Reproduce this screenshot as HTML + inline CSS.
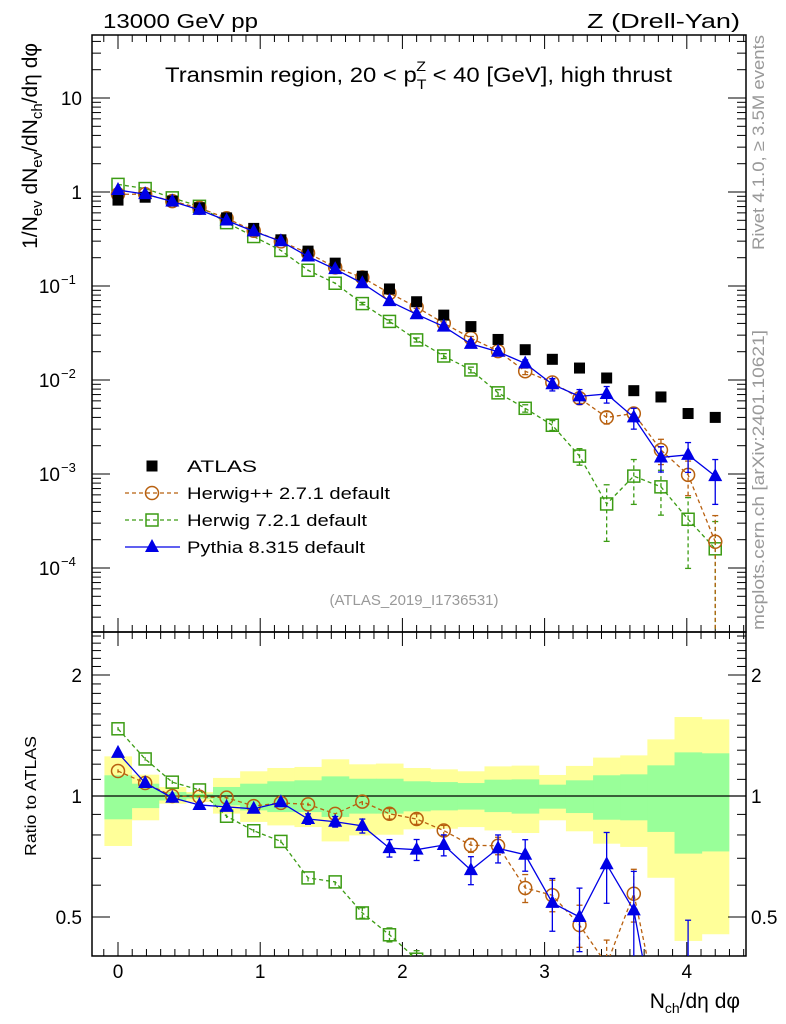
<!DOCTYPE html>
<html><head><meta charset="utf-8"><style>
html,body{margin:0;padding:0;background:#fff;width:786px;height:1024px;overflow:hidden}
svg{display:block;font-family:"Liberation Sans",sans-serif}
</style></head><body>
<svg id="c" width="786" height="1024" viewBox="0 0 786 1024" xmlns="http://www.w3.org/2000/svg">
<defs>
<clipPath id="cm"><rect x="92" y="35" width="654" height="597"/></clipPath>
<clipPath id="cr"><rect x="92" y="632" width="654" height="324"/></clipPath>
</defs>
<g id="bands" clip-path="url(#cr)"></g>
<g id="axes"></g>
<g id="mainMarks" clip-path="url(#cm)"></g>
<g id="ratioMarks" clip-path="url(#cr)"></g>
<text x="103" y="28" font-size="20" textLength="155" lengthAdjust="spacingAndGlyphs">13000 GeV pp</text>
<text x="587" y="28" font-size="20" textLength="153" lengthAdjust="spacingAndGlyphs">Z (Drell-Yan)</text>
<text x="165" y="82" font-size="21" textLength="507" lengthAdjust="spacingAndGlyphs">Transmin region, 20 &lt; p<tspan font-size="14" dy="7">T</tspan><tspan font-size="14" dx="-9" dy="-18">Z</tspan><tspan font-size="21" dy="11"> &lt; 40 [GeV], high thrust</tspan></text>
<text x="414" y="605" font-size="15" fill="#999" text-anchor="middle">(ATLAS_2019_I1736531)</text>
<text transform="translate(764,250) rotate(-90)" font-size="17" fill="#999" textLength="215" lengthAdjust="spacingAndGlyphs">Rivet 4.1.0, ≥ 3.5M events</text>
<text transform="translate(764,630) rotate(-90)" font-size="17" fill="#999" textLength="300" lengthAdjust="spacingAndGlyphs">mcplots.cern.ch [arXiv:2401.10621]</text>
<text transform="translate(37,43) rotate(-90)" font-size="21" text-anchor="end">1/N<tspan font-size="15" dy="5">ev</tspan><tspan dy="-5"> dN</tspan><tspan font-size="15" dy="5">ev</tspan><tspan dy="-5">/dN</tspan><tspan font-size="15" dy="5">ch</tspan><tspan dy="-5">/dη dφ</tspan></text>
<text transform="translate(36,856) rotate(-90)" font-size="16" textLength="120" lengthAdjust="spacingAndGlyphs">Ratio to ATLAS</text>
<text x="740" y="1008" font-size="21" text-anchor="end">N<tspan font-size="14" dy="5">ch</tspan><tspan dy="-5">/dη dφ</tspan></text>
<g id="legend"></g>
</svg>
<script>
const NS="http://www.w3.org/2000/svg";
const xVals=[0,0.1909,0.3818,0.5727,0.7636,0.9545,1.1455,1.3364,1.5273,1.7182,1.9091,2.1,2.2909,2.4818,2.6727,2.8636,3.0545,3.2455,3.4364,3.6273,3.8182,4.0091,4.2];
const atlas=[0.82,0.88,0.80,0.68,0.53,0.41,0.31,0.235,0.175,0.127,0.093,0.068,0.049,0.037,0.027,0.021,0.0166,0.0134,0.0105,0.0077,0.0066,0.0044,0.0040];
const herwigpp=[0.946,0.948,0.80,0.677,0.525,0.387,0.298,0.224,0.158,0.123,0.084,0.0596,0.0402,0.0279,0.0203,0.0124,0.0094,0.0064,0.0040,0.0044,0.0018,0.00098,0.00019];
const herwig7=[1.205,1.088,0.866,0.704,0.472,0.336,0.239,0.147,0.107,0.065,0.042,0.0267,0.018,0.0128,0.0073,0.0050,0.0033,0.00155,0.00048,0.00095,0.00073,0.00033,0.00016];
const pythia=[1.05,0.948,0.792,0.646,0.498,0.381,0.299,0.206,0.151,0.107,0.069,0.050,0.037,0.0242,0.020,0.015,0.0090,0.0067,0.0071,0.0040,0.0015,0.0016,0.00095];
const herwigppErr=[0.01,0.01,0.01,0.01,0.01,0.01,0.01,0.01,0.02,0.02,0.03,0.03,0.03,0.04,0.05,0.08,0.09,0.12,0.15,0.15,0.3,0.4,0.9];
const herwig7Err=[0.01,0.01,0.01,0.01,0.01,0.01,0.01,0.02,0.02,0.03,0.04,0.05,0.06,0.07,0.08,0.09,0.12,0.2,0.6,0.5,0.5,0.7,0.95];
const pythiaErr=[0.01,0.01,0.01,0.01,0.01,0.01,0.02,0.03,0.03,0.04,0.05,0.06,0.06,0.08,0.08,0.09,0.15,0.18,0.2,0.25,0.3,0.35,0.5];
const bandYellowUp=[1.255,1.130,1.053,1.023,1.109,1.152,1.174,1.181,1.234,1.199,1.204,1.174,1.165,1.152,1.185,1.190,1.128,1.188,1.246,1.262,1.383,1.572,1.551];
const bandYellowDn=[0.751,0.870,0.957,0.966,0.904,0.862,0.845,0.837,0.771,0.798,0.801,0.826,0.829,0.837,0.821,0.809,0.870,0.817,0.761,0.747,0.626,0.436,0.453];
const bandGreenUp=[1.126,1.073,1.023,1.013,1.053,1.073,1.088,1.094,1.119,1.104,1.104,1.088,1.083,1.077,1.098,1.100,1.067,1.094,1.126,1.132,1.192,1.284,1.277];
const bandGreenDn=[0.875,0.933,0.975,0.985,0.948,0.921,0.912,0.912,0.887,0.904,0.904,0.916,0.921,0.925,0.912,0.904,0.930,0.907,0.873,0.870,0.814,0.719,0.728];
const xTicks=[0,1,2,3,4];
const binW=0.1909;

const X=v=>118+v*142.2;
const Ym=v=>192-94*Math.log10(v);
const Yr=v=>796-402*Math.log10(v);
const L=92,R=746,T=35,M=632,B=956;

function mk(tag,attrs,parent){const e=document.createElementNS(NS,tag);for(const k in attrs)e.setAttribute(k,attrs[k]);parent.appendChild(e);return e;}
const axes=document.getElementById('axes');
const bands=document.getElementById('bands');
const mm=document.getElementById('mainMarks');
const rm=document.getElementById('ratioMarks');
const lg=document.getElementById('legend');

xVals.forEach((x,i)=>{
  const x0=X(x-binW/2),x1=X(x+binW/2);
  const y=mk('rect',{x:x0,y:Yr(bandYellowUp[i]),width:x1-x0+0.5,height:Yr(bandYellowDn[i])-Yr(bandYellowUp[i]),fill:'#ffff99'},bands);
  
  
});
xVals.forEach((x,i)=>{
  const x0=X(x-binW/2),x1=X(x+binW/2);
  const g=mk('rect',{x:x0,y:Yr(bandGreenUp[i]),width:x1-x0+0.5,height:Yr(bandGreenDn[i])-Yr(bandGreenUp[i]),fill:'#99ff99'},bands);
  
  
});

const f1=mk('rect',{x:L,y:T,width:R-L,height:M-T,fill:'none',stroke:'#000','stroke-width':1.5},axes);


const f2=mk('rect',{x:L,y:M,width:R-L,height:B-M,fill:'none',stroke:'#000','stroke-width':1.5},axes);


const one=mk('line',{x1:L,x2:R,y1:Yr(1),y2:Yr(1),stroke:'#000','stroke-width':1.2},axes);



for(let k=-1;k<=45;k++){
  const v=k/10, px=X(v); if(px<L||px>R) continue;
  const major=k%10===0, len=major?14:7;
  [[T,T+len],[M,M-len],[M,M+len],[B,B-len]].forEach(([a,b])=>mk('line',{x1:px,x2:px,y1:a,y2:b,stroke:'#000'},axes));
}
xTicks.forEach(v=>{
  const t=mk('text',{x:X(v),y:978,'font-size':19,'text-anchor':'middle'},axes);t.textContent=v;
  
  
});
for(let d=-5;d<=1;d++){
  for(let m=1;m<=9;m++){
    const v=m*Math.pow(10,d), py=Ym(v); if(py<T||py>M) continue;
    const len=m===1?18:9;
    mk('line',{x1:L,x2:L+len,y1:py,y2:py,stroke:'#000'},axes);
    mk('line',{x1:R,x2:R-len,y1:py,y2:py,stroke:'#000'},axes);
  }
}
const yLab=[[10,'10'],[1,'1']];
yLab.forEach(([v,s])=>{const t=mk('text',{x:82,y:Ym(v)+7,'font-size':19,'text-anchor':'end'},axes);t.textContent=s;
  
  });
[-1,-2,-3,-4].forEach(e=>{
  const t=mk('text',{x:60,y:Ym(Math.pow(10,e))+7,'font-size':19,'text-anchor':'end'},axes);
  t.textContent='10';
  
  
  const s=mk('text',{x:61,y:Ym(Math.pow(10,e))-2,'font-size':13},axes);s.textContent='−'+(-e);
  
  
});
for(let k=4;k<=25;k++){
  const v=k/10, py=Yr(v); if(py<M||py>B) continue;
  const major=(k===5||k===10||k===20), len=major?18:9;
  mk('line',{x1:L,x2:L+len,y1:py,y2:py,stroke:'#000'},axes);
  mk('line',{x1:R,x2:R-len,y1:py,y2:py,stroke:'#000'},axes);
}
[[2,'2'],[1,'1'],[0.5,'0.5']].forEach(([v,s])=>{
  const a=mk('text',{x:82,y:Yr(v)+7,'font-size':19,'text-anchor':'end'},axes);a.textContent=s;
  
  
  const b=mk('text',{x:751,y:Yr(v)+7,'font-size':19},axes);b.textContent=s;
  
  
});

function marker(type,cx,cy,color,g){
  let e;
  if(type==='sq') e=mk('rect',{x:cx-5.5,y:cy-5.5,width:11,height:11,fill:'#000'},g);
  else if(type==='circ') e=mk('circle',{cx:cx,cy:cy,r:6.5,fill:'none',stroke:color,'stroke-width':1.5},g);
  else if(type==='osq') e=mk('rect',{x:cx-6,y:cy-6,width:12,height:12,fill:'none',stroke:color,'stroke-width':1.5},g);
  else e=mk('polygon',{points:`${cx},${cy-8} ${cx-7},${cy+5} ${cx+7},${cy+5}`,fill:color},g);
  
  
}
function series(vals,errs,color,type,dash,g,Y,norm){
  const pts=vals.map((v,i)=>[X(xVals[i]),Y(norm?v/norm[i]:v)]);
  const pl=mk('polyline',{points:pts.map(p=>p.join(',')).join(' '),fill:'none',stroke:color,'stroke-width':1.3,'stroke-dasharray':dash||'none'},g);
  
  
  if(errs) vals.forEach((v,i)=>{
    const c=norm?v/norm[i]:v, lo=Math.max(c*(1-errs[i]),1e-9), hi=c*(1+errs[i]);
    const px=pts[i][0];
    const eb=mk('line',{x1:px,x2:px,y1:Y(lo),y2:Y(hi),stroke:color,'stroke-width':1.3,'stroke-dasharray':dash||'none'},g);
    
    
    if(errs[i]>0.02){[lo,hi].forEach(q=>mk('line',{x1:px-3,x2:px+3,y1:Y(q),y2:Y(q),stroke:color,'stroke-width':1.3},g));}
  });
  pts.forEach(p=>marker(type,p[0],p[1],color,g));
}
const OR='#b8600f',GR='#3c9c14',BL='#0000e6';
series(herwig7,herwig7Err,GR,'osq','4,3',mm,Ym);
series(herwigpp,herwigppErr,OR,'circ','4,3',mm,Ym);
atlas.forEach((v,i)=>marker('sq',X(xVals[i]),Ym(v),'#000',mm));
series(pythia,pythiaErr,BL,'tri',null,mm,Ym);
series(herwig7,herwig7Err,GR,'osq','4,3',rm,Yr,atlas);
series(herwigpp,herwigppErr,OR,'circ','4,3',rm,Yr,atlas);
series(pythia,pythiaErr,BL,'tri',null,rm,Yr,atlas);

const legItems=[['ATLAS','sq','#000',null,70],['Herwig++ 2.7.1 default','circ',OR,'4,3',203],['Herwig 7.2.1 default','osq',GR,'4,3',180],['Pythia 8.315 default','tri',BL,null,178]];
legItems.forEach((it,i)=>{
  const y=466+i*27;
  const g=mk('g',{},lg);
  
  
  if(it[0]!=='ATLAS') mk('line',{x1:125,x2:180,y1:y,y2:y,stroke:it[2],'stroke-width':1.3,'stroke-dasharray':it[3]||'none'},g);
  marker(it[1],152,y,it[2],g);
  const t=mk('text',{x:187,y:y+6,'font-size':17,textLength:it[4],lengthAdjust:'spacingAndGlyphs'},g);t.textContent=it[0];
});
</script>
</body></html>
